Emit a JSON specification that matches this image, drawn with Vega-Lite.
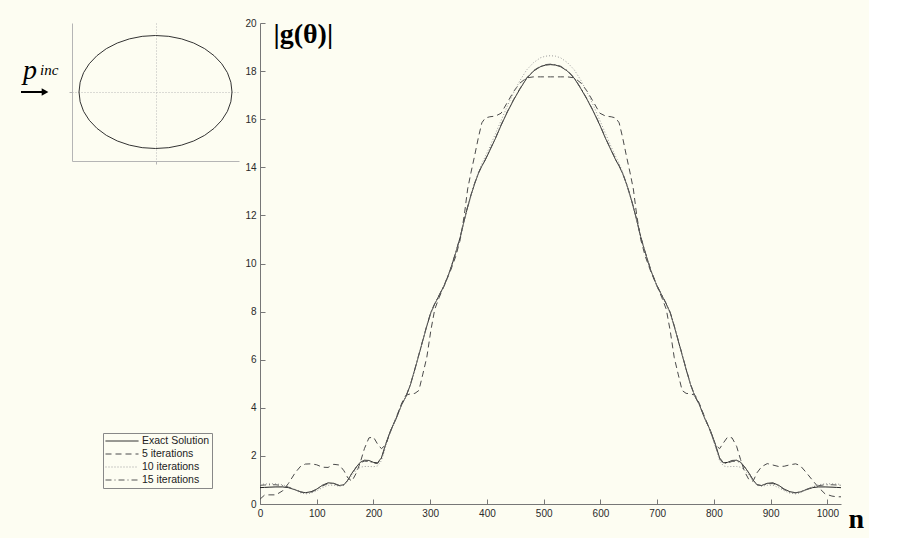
{
  "$schema": "https://vega.github.io/schema/vega-lite/v6.json",
  "background": "#fdfdf2",
  "padding": {"left": 20, "top": 18, "right": 5, "bottom": 5},
  "bounds": "flush",
  "spacing": 21,
  "config": {"view": {"stroke": null}, "font": "Liberation Sans"},
  "hconcat": [
    {
      "width": 167,
      "height": 138,
      "encoding": {
        "x": {"field": "x", "type": "quantitative", "scale": {"domain": [-1.0915, 1.0915], "nice": false, "zero": false},
          "axis": {"values": [0], "labels": false, "title": null, "tickSize": 3, "tickColor": "#b5b5b5", "domainColor": "#b5b5b5", "grid": true, "gridDash": [1, 2], "gridColor": "#b8b8b8"}},
        "y": {"field": "y", "type": "quantitative", "scale": {"domain": [-0.916, 0.916], "nice": false, "zero": false},
          "axis": {"values": [0], "labels": false, "title": null, "tickSize": 3, "tickColor": "#b5b5b5", "domainColor": "#b5b5b5", "grid": true, "gridDash": [1, 2], "gridColor": "#b8b8b8"}}
      },
      "layer": [
        {
          "data": {"values": [
            {"i": 0, "x": 1, "y": 0}, {"i": 1, "x": 0.985, "y": 0.13}, {"i": 2, "x": 0.94, "y": 0.257}, {"i": 3, "x": 0.866, "y": 0.375},
            {"i": 4, "x": 0.766, "y": 0.482}, {"i": 5, "x": 0.643, "y": 0.575}, {"i": 6, "x": 0.5, "y": 0.65}, {"i": 7, "x": 0.342, "y": 0.705},
            {"i": 8, "x": 0.174, "y": 0.739}, {"i": 9, "x": 0, "y": 0.75}, {"i": 10, "x": -0.174, "y": 0.739}, {"i": 11, "x": -0.342, "y": 0.705},
            {"i": 12, "x": -0.5, "y": 0.65}, {"i": 13, "x": -0.643, "y": 0.575}, {"i": 14, "x": -0.766, "y": 0.482}, {"i": 15, "x": -0.866, "y": 0.375},
            {"i": 16, "x": -0.94, "y": 0.257}, {"i": 17, "x": -0.985, "y": 0.13}, {"i": 18, "x": -1, "y": 0}, {"i": 19, "x": -0.985, "y": -0.13},
            {"i": 20, "x": -0.94, "y": -0.257}, {"i": 21, "x": -0.866, "y": -0.375}, {"i": 22, "x": -0.766, "y": -0.482}, {"i": 23, "x": -0.643, "y": -0.575},
            {"i": 24, "x": -0.5, "y": -0.65}, {"i": 25, "x": -0.342, "y": -0.705}, {"i": 26, "x": -0.174, "y": -0.739}, {"i": 27, "x": 0, "y": -0.75},
            {"i": 28, "x": 0.174, "y": -0.739}, {"i": 29, "x": 0.342, "y": -0.705}, {"i": 30, "x": 0.5, "y": -0.65}, {"i": 31, "x": 0.643, "y": -0.575},
            {"i": 32, "x": 0.766, "y": -0.482}, {"i": 33, "x": 0.866, "y": -0.375}, {"i": 34, "x": 0.94, "y": -0.257}, {"i": 35, "x": 0.985, "y": -0.13},
            {"i": 36, "x": 1, "y": 0}
          ]},
          "mark": {"type": "line", "stroke": "#333333", "strokeWidth": 1},
          "encoding": {"order": {"field": "i", "type": "quantitative"}}
        },
        {
          "data": {"values": [{"x": -1.732, "y": 0.173, "t": "p"}]},
          "mark": {"type": "text", "font": "Liberation Serif", "fontStyle": "italic", "fontSize": 28, "align": "left", "baseline": "alphabetic", "color": "#000000"},
          "encoding": {"text": {"field": "t"}}
        },
        {
          "data": {"values": [{"x": -1.51, "y": 0.226, "t": "inc"}]},
          "mark": {"type": "text", "font": "Liberation Serif", "fontStyle": "italic", "fontSize": 15, "align": "left", "baseline": "alphabetic", "color": "#000000"},
          "encoding": {"text": {"field": "t"}}
        },
        {
          "data": {"values": [{"x": -1.758, "x2": -1.47, "y": 0}]},
          "mark": {"type": "rule", "strokeWidth": 2, "color": "#000000"},
          "encoding": {"x2": {"field": "x2"}}
        },
        {
          "data": {"values": [{"x": -1.444, "y": 0}]},
          "mark": {"type": "point", "shape": "triangle-right", "filled": true, "size": 60, "color": "#000000", "opacity": 1}
        }
      ]
    },
    {
      "width": 581,
      "height": 481,
      "data": {"values": [
        {"n": 0, "e": 0.68, "d5": 0.20, "d10": 0.82, "d15": 0.78},
        {"n": 8, "e": 0.69, "d5": 0.37, "d10": 0.83, "d15": 0.79},
        {"n": 16, "e": 0.70, "d5": 0.38, "d10": 0.84, "d15": 0.80},
        {"n": 28, "e": 0.71, "d5": 0.38, "d10": 0.84, "d15": 0.80},
        {"n": 40, "e": 0.71, "d5": 0.55, "d10": 0.80, "d15": 0.76},
        {"n": 50, "e": 0.68, "d5": 0.85, "d10": 0.72, "d15": 0.70},
        {"n": 62, "e": 0.59, "d5": 1.30, "d10": 0.58, "d15": 0.60},
        {"n": 72, "e": 0.50, "d5": 1.58, "d10": 0.46, "d15": 0.50},
        {"n": 80, "e": 0.47, "d5": 1.66, "d10": 0.42, "d15": 0.46},
        {"n": 90, "e": 0.51, "d5": 1.67, "d10": 0.45, "d15": 0.49},
        {"n": 100, "e": 0.62, "d5": 1.63, "d10": 0.55, "d15": 0.60},
        {"n": 110, "e": 0.78, "d5": 1.53, "d10": 0.68, "d15": 0.75},
        {"n": 120, "e": 0.88, "d5": 1.52, "d10": 0.78, "d15": 0.85},
        {"n": 130, "e": 0.86, "d5": 1.65, "d10": 0.78, "d15": 0.84},
        {"n": 140, "e": 0.77, "d5": 1.62, "d10": 0.74, "d15": 0.76},
        {"n": 148, "e": 0.80, "d5": 1.38, "d10": 0.78, "d15": 0.80},
        {"n": 155, "e": 1.00, "d5": 1.08, "d10": 0.95, "d15": 1.00},
        {"n": 162, "e": 1.28, "d5": 0.95, "d10": 1.20, "d15": 1.27},
        {"n": 170, "e": 1.55, "d5": 1.30, "d10": 1.42, "d15": 1.53},
        {"n": 177, "e": 1.74, "d5": 1.75, "d10": 1.53, "d15": 1.72},
        {"n": 184, "e": 1.82, "d5": 2.30, "d10": 1.56, "d15": 1.78},
        {"n": 192, "e": 1.81, "d5": 2.75, "d10": 1.56, "d15": 1.77},
        {"n": 200, "e": 1.73, "d5": 2.78, "d10": 1.55, "d15": 1.70},
        {"n": 207, "e": 1.71, "d5": 2.50, "d10": 1.58, "d15": 1.68},
        {"n": 214, "e": 1.92, "d5": 2.30, "d10": 1.80, "d15": 1.88},
        {"n": 221, "e": 2.45, "d5": 2.45, "d10": 2.35, "d15": 2.42},
        {"n": 230, "e": 3.05, "d5": 3.00, "d10": 3.00, "d15": 3.03},
        {"n": 240, "e": 3.55, "d5": 3.60, "d10": 3.55, "d15": 3.57},
        {"n": 250, "e": 4.15, "d5": 4.20, "d10": 4.15, "d15": 4.17},
        {"n": 257, "e": 4.45, "d5": 4.52, "d10": 4.45, "d15": 4.47},
        {"n": 265, "e": 4.95, "d5": 4.58, "d10": 4.95, "d15": 4.97},
        {"n": 273, "e": 5.60, "d5": 4.60, "d10": 5.60, "d15": 5.62},
        {"n": 280, "e": 6.20, "d5": 4.72, "d10": 6.20, "d15": 6.22},
        {"n": 287, "e": 6.80, "d5": 5.40, "d10": 6.80, "d15": 6.82},
        {"n": 294, "e": 7.40, "d5": 6.10, "d10": 7.40, "d15": 7.42},
        {"n": 301, "e": 7.95, "d5": 7.20, "d10": 7.90, "d15": 7.97},
        {"n": 308, "e": 8.32, "d5": 8.10, "d10": 8.30, "d15": 8.34},
        {"n": 316, "e": 8.68, "d5": 8.60, "d10": 8.68, "d15": 8.70},
        {"n": 325, "e": 9.10, "d5": 9.10, "d10": 9.10, "d15": 9.12},
        {"n": 335, "e": 9.70, "d5": 9.65, "d10": 9.70, "d15": 9.72},
        {"n": 345, "e": 10.45, "d5": 10.30, "d10": 10.45, "d15": 10.47},
        {"n": 353, "e": 11.10, "d5": 11.00, "d10": 11.10, "d15": 11.12},
        {"n": 360, "e": 11.80, "d5": 12.00, "d10": 11.75, "d15": 11.82},
        {"n": 366, "e": 12.35, "d5": 13.10, "d10": 12.30, "d15": 12.37},
        {"n": 372, "e": 12.85, "d5": 13.80, "d10": 12.80, "d15": 12.87},
        {"n": 378, "e": 13.30, "d5": 14.45, "d10": 13.30, "d15": 13.32},
        {"n": 385, "e": 13.75, "d5": 15.25, "d10": 13.80, "d15": 13.77},
        {"n": 391, "e": 14.05, "d5": 15.85, "d10": 14.15, "d15": 14.07},
        {"n": 397, "e": 14.30, "d5": 16.05, "d10": 14.45, "d15": 14.32},
        {"n": 405, "e": 14.70, "d5": 16.10, "d10": 14.85, "d15": 14.72},
        {"n": 415, "e": 15.20, "d5": 16.13, "d10": 15.40, "d15": 15.22},
        {"n": 425, "e": 15.75, "d5": 16.25, "d10": 15.95, "d15": 15.77},
        {"n": 436, "e": 16.30, "d5": 16.70, "d10": 16.55, "d15": 16.32},
        {"n": 447, "e": 16.80, "d5": 17.15, "d10": 17.10, "d15": 16.82},
        {"n": 458, "e": 17.25, "d5": 17.50, "d10": 17.60, "d15": 17.27},
        {"n": 470, "e": 17.70, "d5": 17.72, "d10": 18.05, "d15": 17.72},
        {"n": 482, "e": 18.00, "d5": 17.76, "d10": 18.35, "d15": 18.02},
        {"n": 494, "e": 18.18, "d5": 17.76, "d10": 18.55, "d15": 18.20},
        {"n": 503, "e": 18.25, "d5": 17.76, "d10": 18.62, "d15": 18.27},
        {"n": 512, "e": 18.27, "d5": 17.76, "d10": 18.64, "d15": 18.29},
        {"n": 521, "e": 18.25, "d5": 17.76, "d10": 18.62, "d15": 18.27},
        {"n": 530, "e": 18.18, "d5": 17.76, "d10": 18.55, "d15": 18.20},
        {"n": 542, "e": 18.00, "d5": 17.76, "d10": 18.35, "d15": 18.02},
        {"n": 554, "e": 17.70, "d5": 17.72, "d10": 18.05, "d15": 17.72},
        {"n": 566, "e": 17.25, "d5": 17.50, "d10": 17.60, "d15": 17.27},
        {"n": 577, "e": 16.80, "d5": 17.15, "d10": 17.10, "d15": 16.82},
        {"n": 588, "e": 16.30, "d5": 16.70, "d10": 16.55, "d15": 16.32},
        {"n": 599, "e": 15.75, "d5": 16.25, "d10": 15.95, "d15": 15.77},
        {"n": 609, "e": 15.20, "d5": 16.13, "d10": 15.40, "d15": 15.22},
        {"n": 619, "e": 14.70, "d5": 16.10, "d10": 14.85, "d15": 14.72},
        {"n": 627, "e": 14.30, "d5": 16.05, "d10": 14.45, "d15": 14.32},
        {"n": 633, "e": 14.05, "d5": 15.85, "d10": 14.15, "d15": 14.07},
        {"n": 639, "e": 13.75, "d5": 15.25, "d10": 13.80, "d15": 13.77},
        {"n": 646, "e": 13.30, "d5": 14.45, "d10": 13.30, "d15": 13.32},
        {"n": 652, "e": 12.85, "d5": 13.80, "d10": 12.80, "d15": 12.87},
        {"n": 658, "e": 12.35, "d5": 13.10, "d10": 12.30, "d15": 12.37},
        {"n": 664, "e": 11.80, "d5": 12.00, "d10": 11.75, "d15": 11.82},
        {"n": 671, "e": 11.10, "d5": 11.00, "d10": 11.10, "d15": 11.12},
        {"n": 679, "e": 10.45, "d5": 10.30, "d10": 10.45, "d15": 10.47},
        {"n": 689, "e": 9.70, "d5": 9.65, "d10": 9.70, "d15": 9.72},
        {"n": 699, "e": 9.10, "d5": 9.10, "d10": 9.10, "d15": 9.12},
        {"n": 708, "e": 8.68, "d5": 8.60, "d10": 8.68, "d15": 8.70},
        {"n": 716, "e": 8.32, "d5": 8.10, "d10": 8.30, "d15": 8.34},
        {"n": 723, "e": 7.95, "d5": 7.20, "d10": 7.90, "d15": 7.97},
        {"n": 730, "e": 7.40, "d5": 6.10, "d10": 7.40, "d15": 7.42},
        {"n": 737, "e": 6.80, "d5": 5.40, "d10": 6.80, "d15": 6.82},
        {"n": 744, "e": 6.20, "d5": 4.72, "d10": 6.20, "d15": 6.22},
        {"n": 751, "e": 5.60, "d5": 4.60, "d10": 5.60, "d15": 5.62},
        {"n": 759, "e": 4.95, "d5": 4.58, "d10": 4.95, "d15": 4.97},
        {"n": 767, "e": 4.45, "d5": 4.52, "d10": 4.45, "d15": 4.47},
        {"n": 774, "e": 4.15, "d5": 4.20, "d10": 4.15, "d15": 4.17},
        {"n": 784, "e": 3.55, "d5": 3.60, "d10": 3.55, "d15": 3.57},
        {"n": 794, "e": 3.05, "d5": 3.00, "d10": 3.00, "d15": 3.03},
        {"n": 803, "e": 2.45, "d5": 2.45, "d10": 2.35, "d15": 2.42},
        {"n": 810, "e": 1.92, "d5": 2.30, "d10": 1.80, "d15": 1.88},
        {"n": 817, "e": 1.71, "d5": 2.55, "d10": 1.58, "d15": 1.68},
        {"n": 824, "e": 1.73, "d5": 2.78, "d10": 1.55, "d15": 1.70},
        {"n": 832, "e": 1.81, "d5": 2.75, "d10": 1.56, "d15": 1.77},
        {"n": 840, "e": 1.82, "d5": 2.40, "d10": 1.56, "d15": 1.78},
        {"n": 847, "e": 1.74, "d5": 1.85, "d10": 1.53, "d15": 1.72},
        {"n": 854, "e": 1.55, "d5": 1.35, "d10": 1.42, "d15": 1.53},
        {"n": 862, "e": 1.28, "d5": 1.00, "d10": 1.20, "d15": 1.27},
        {"n": 869, "e": 1.00, "d5": 0.95, "d10": 0.95, "d15": 1.00},
        {"n": 876, "e": 0.80, "d5": 1.30, "d10": 0.78, "d15": 0.80},
        {"n": 884, "e": 0.77, "d5": 1.55, "d10": 0.74, "d15": 0.76},
        {"n": 894, "e": 0.86, "d5": 1.68, "d10": 0.78, "d15": 0.84},
        {"n": 904, "e": 0.88, "d5": 1.62, "d10": 0.78, "d15": 0.85},
        {"n": 914, "e": 0.78, "d5": 1.56, "d10": 0.68, "d15": 0.75},
        {"n": 924, "e": 0.62, "d5": 1.57, "d10": 0.55, "d15": 0.60},
        {"n": 934, "e": 0.51, "d5": 1.63, "d10": 0.45, "d15": 0.49},
        {"n": 944, "e": 0.47, "d5": 1.67, "d10": 0.42, "d15": 0.46},
        {"n": 952, "e": 0.50, "d5": 1.60, "d10": 0.46, "d15": 0.50},
        {"n": 962, "e": 0.59, "d5": 1.33, "d10": 0.58, "d15": 0.60},
        {"n": 974, "e": 0.68, "d5": 0.98, "d10": 0.72, "d15": 0.70},
        {"n": 984, "e": 0.71, "d5": 0.70, "d10": 0.80, "d15": 0.76},
        {"n": 996, "e": 0.71, "d5": 0.42, "d10": 0.84, "d15": 0.80},
        {"n": 1008, "e": 0.70, "d5": 0.33, "d10": 0.84, "d15": 0.80},
        {"n": 1016, "e": 0.69, "d5": 0.30, "d10": 0.83, "d15": 0.79},
        {"n": 1024, "e": 0.68, "d5": 0.30, "d10": 0.82, "d15": 0.78}
      ]},
      "transform": [{"fold": ["e", "d5", "d10", "d15"], "as": ["series", "v"]}],
      "mark": {"type": "line", "strokeWidth": 1},
      "encoding": {
        "x": {"field": "n", "type": "quantitative", "scale": {"domain": [0, 1024], "nice": false, "zero": false},
          "axis": {"values": [0, 100, 200, 300, 400, 500, 600, 700, 800, 900, 1000], "format": "d", "tickSize": -5, "labelPadding": 9, "labelFlush": false,
            "labelFontSize": 10, "labelColor": "#2a2a2a", "labelFont": "Liberation Sans", "domainColor": "#777777", "tickColor": "#777777", "grid": false,
            "title": "n", "titleFont": "Liberation Serif", "titleFontSize": 28, "titleFontWeight": "bold", "titleColor": "#000000",
            "titleAlign": "left", "titleBaseline": "alphabetic", "titleX": 588, "titleY": 23, "titleAngle": 0}},
        "y": {"field": "v", "type": "quantitative", "scale": {"domain": [0, 20], "nice": false},
          "axis": {"values": [0, 2, 4, 6, 8, 10, 12, 14, 16, 18, 20], "format": "d", "tickSize": -5, "labelPadding": 9, "labelFlush": false,
            "labelFontSize": 10, "labelColor": "#2a2a2a", "labelFont": "Liberation Sans", "domainColor": "#777777", "tickColor": "#777777", "grid": false,
            "title": "|g(θ)|", "titleFont": "Liberation Serif", "titleFontSize": 28, "titleFontWeight": "bold", "titleColor": "#000000",
            "titleAlign": "left", "titleBaseline": "alphabetic", "titleX": 13, "titleY": 19, "titleAngle": 0}},
        "color": {"field": "series", "type": "nominal",
          "scale": {"domain": ["e", "d5", "d10", "d15"], "range": ["#1a1a1a", "#4a4a4a", "#9a9a9a", "#555555"]},
          "legend": {"orient": "none", "legendX": 31, "legendY": 410, "title": null, "symbolType": "M-1,0H5", "symbolSize": 121, "symbolStrokeWidth": 1,
            "labelOffset": 25, "labelFontSize": 10.5, "labelFont": "Liberation Sans", "labelColor": "#222222", "padding": 2, "rowPadding": 1,
            "strokeColor": "#888888", "fillColor": "#fdfdf2",
            "labelExpr": "datum.label == 'e' ? 'Exact Solution' : datum.label == 'd5' ? '5 iterations' : datum.label == 'd10' ? '10 iterations' : '15 iterations'"}},
        "strokeDash": {"field": "series", "type": "nominal",
          "scale": {"domain": ["e", "d5", "d10", "d15"], "range": [[1, 0], [6, 4], [1, 2], [6, 3, 1, 3]]},
          "legend": {"orient": "none", "legendX": 31, "legendY": 410, "title": null, "symbolType": "M-1,0H5", "symbolSize": 121, "symbolStrokeWidth": 1,
            "labelOffset": 25, "labelFontSize": 10.5, "labelFont": "Liberation Sans", "labelColor": "#222222", "padding": 2, "rowPadding": 1,
            "strokeColor": "#888888", "fillColor": "#fdfdf2",
            "labelExpr": "datum.label == 'e' ? 'Exact Solution' : datum.label == 'd5' ? '5 iterations' : datum.label == 'd10' ? '10 iterations' : '15 iterations'"}}
      }
    }
  ]
}
